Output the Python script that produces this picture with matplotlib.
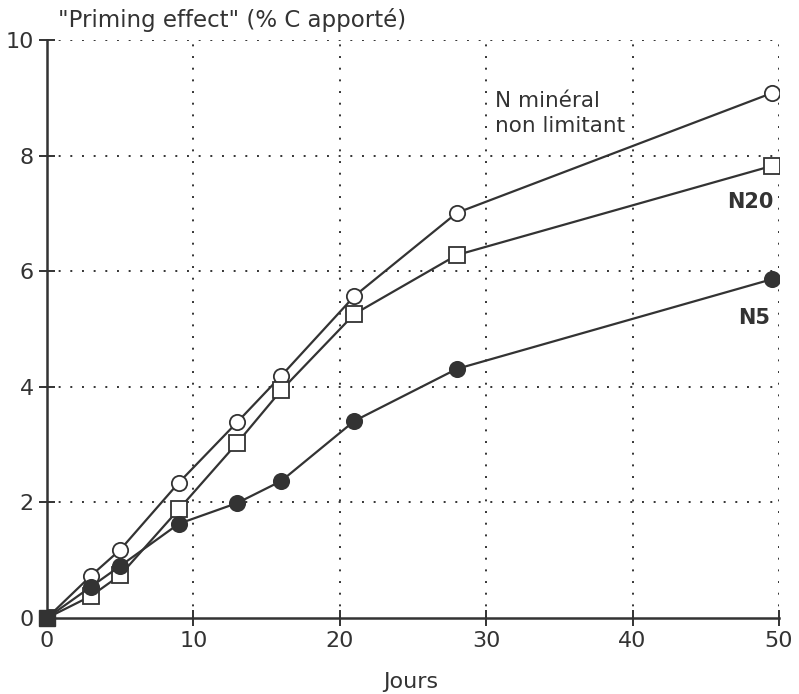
import matplotlib
matplotlib.use("Agg")
import matplotlib.pyplot as plt

# Incubation days and cumulative priming effect (% of added C)
jours = [0, 3, 5, 9, 13, 16, 21, 28, 49.5]
n_mineral = [0, 0.73, 1.18, 2.34, 3.39, 4.19, 5.57, 7.01, 9.08]
n20 = [0, 0.38, 0.74, 1.88, 3.03, 3.94, 5.26, 6.28, 7.82]
n5 = [0, 0.54, 0.90, 1.63, 1.99, 2.37, 3.41, 4.31, 5.86]

x_ticks = [0, 10, 20, 30, 40, 50]
y_ticks = [0, 2, 4, 6, 8, 10]

ink = "#333333"
plt.rcParams["font.family"] = ["DejaVu Sans"]

fig = plt.figure(figsize=(7.99, 6.94), dpi=100)
ax = fig.add_axes([0.0588, 0.1095, 0.9162, 0.8329])
ax.set_xlim(0, 50)
ax.set_ylim(0, 10)

# dotted grid, including the top and right borders
for v in x_ticks[1:]:
    ax.axvline(v, color=ink, lw=1.4, ls=(0, (1, 5)), zorder=1)
for v in y_ticks[1:]:
    ax.axhline(v, color=ink, lw=1.4, ls=(0, (1, 5)), zorder=1)

line_kw = dict(color=ink, lw=1.6, markersize=11, markeredgewidth=1.3, zorder=3)
ax.plot(jours, n_mineral, marker="o", markerfacecolor="white", markeredgecolor=ink, **line_kw)
ax.plot(jours, n20, marker="s", markerfacecolor="white", markeredgecolor=ink, **line_kw)
ax.plot(jours, n5, marker="o", markerfacecolor=ink, markeredgecolor=ink, **line_kw)
# common origin
ax.plot(jours[0], n5[0], marker="s", markersize=12, color=ink, clip_on=False, zorder=4)

for side in ("top", "right"):
    ax.spines[side].set_visible(False)
for side in ("left", "bottom"):
    ax.spines[side].set_color(ink)
    ax.spines[side].set_linewidth(1.8)

ax.set_xticks(x_ticks)
ax.set_yticks(y_ticks)
ax.tick_params(direction="inout", length=11, width=1.4, color=ink,
               labelsize=16, labelcolor=ink, pad=4)

fig.text(58 / 799, 1 - 20 / 694, "\"Priming effect\" (% C apporté)",
         fontsize=16.5, color=ink, ha="left", va="center")
fig.text(411 / 799, 1 - 682 / 694, "Jours", fontsize=16, color=ink,
         ha="center", va="center")

ax.text(30.6, 8.94, "N minéral", fontsize=15.5, color=ink, ha="left", va="center")
ax.text(30.6, 8.52, "non limitant", fontsize=15.5, color=ink, ha="left", va="center")
ax.text(49.6, 7.20, "N20", fontsize=15, fontweight="bold", color=ink,
        ha="right", va="center")
ax.text(49.4, 5.19, "N5", fontsize=15, fontweight="bold", color=ink,
        ha="right", va="center")

fig.savefig("out.png", dpi=100, facecolor="white")
